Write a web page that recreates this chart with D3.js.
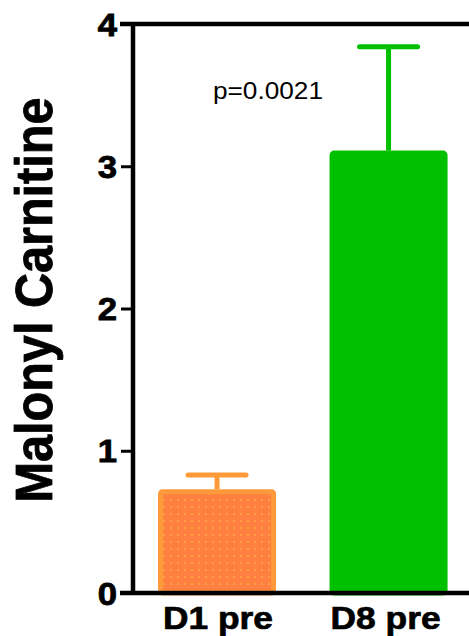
<!DOCTYPE html>
<html>
<head>
<meta charset="utf-8">
<script src="https://cdn.jsdelivr.net/npm/d3@7"></script>
<style>
  html, body { margin: 0; padding: 0; background: #fff; }
  svg { display: block; }
  text { font-family: "Liberation Sans", Arial, sans-serif; }
</style>
</head>
<body>
<div id="chart"></div>
<script>
// data
const groups = ["D1 pre", "D8 pre"];
const means = [0.73, 3.11];
const sems = [0.10, 0.73];
const yTicks = [0, 1, 2, 3, 4];
const yLabel = "Malonyl Carnitine";
const pLabel = "p=0.0021";

const W = 469, H = 636;
const svg = d3.select("#chart").append("svg").attr("width", W).attr("height", H);

const defs = svg.append("defs");
const pat = defs.append("pattern").attr("id", "dots").attr("patternUnits", "userSpaceOnUse")
  .attr("width", 7).attr("height", 7);
pat.append("rect").attr("width", 7).attr("height", 7).attr("fill", "#ff8040");
pat.append("rect").attr("x", 2).attr("y", 2).attr("width", 2).attr("height", 2).attr("fill", "#ffa040");

const x = d3.scaleBand().domain(groups).range([133, 472.6]).paddingInner(0.312).paddingOuter(0.146);
const y = d3.scaleLinear().domain([0, 4]).range([593, 24]);

const fills = ["url(#dots)", "#00c000"];
const strokes = ["#ff9a3a", "#00c000"];

// bars
svg.selectAll("rect.bar").data(groups).enter().append("rect").attr("class", "bar")
  .attr("x", d => x(d) + 2.5).attr("width", x.bandwidth() - 5)
  .attr("y", (d, i) => y(means[i]) + 2.5).attr("height", (d, i) => y(0) - y(means[i]) - 2.5)
  .attr("rx", 2)
  .attr("fill", (d, i) => fills[i]).attr("stroke", (d, i) => strokes[i]).attr("stroke-width", 5);

// error bars (upper only)
const eb = svg.selectAll("g.err").data(groups).enter().append("g").attr("class", "err")
  .attr("stroke", (d, i) => strokes[i]).attr("stroke-width", 5).attr("stroke-linecap", "round");
eb.append("line").attr("x1", d => x(d) + x.bandwidth() / 2).attr("x2", d => x(d) + x.bandwidth() / 2)
  .attr("y1", (d, i) => y(means[i])).attr("y2", (d, i) => y(means[i] + sems[i]))
  .attr("stroke-linecap", "butt");
eb.append("line").attr("x1", d => x(d) + x.bandwidth() / 2 - 29).attr("x2", d => x(d) + x.bandwidth() / 2 + 29)
  .attr("y1", (d, i) => y(means[i] + sems[i])).attr("y2", (d, i) => y(means[i] + sems[i]));

// y axis
const ya = svg.append("g").attr("transform", "translate(133,0)")
  .call(d3.axisLeft(y).tickValues(yTicks).tickSize(12).tickPadding(14).tickFormat(d3.format("d")));
ya.select(".domain").remove();
ya.selectAll(".tick line").attr("stroke", "#000").attr("stroke-width", 3);
ya.selectAll(".tick text").attr("font-size", 31).attr("font-weight", "bold").attr("fill", "#000")
  .attr("stroke", "#000").attr("stroke-width", 0.8)
  .attr("font-family", "Liberation Sans, Arial, sans-serif")
  .attr("x", -16 / 1.12).attr("dy", "0.36em").attr("transform", "scale(1.12,1)");

svg.append("line").attr("x1", 133).attr("x2", 133).attr("y1", y(4) - 2).attr("y2", y(0) + 2)
  .attr("stroke", "#000").attr("stroke-width", 4.5);
// top frame and baseline
svg.append("line").attr("x1", 120).attr("x2", W).attr("y1", y(4)).attr("y2", y(4))
  .attr("stroke", "#000").attr("stroke-width", 4.5);
svg.append("line").attr("x1", 120).attr("x2", W).attr("y1", y(0)).attr("y2", y(0))
  .attr("stroke", "#000").attr("stroke-width", 4.5);

// x labels
svg.selectAll("text.xl").data(groups).enter().append("text").attr("class", "xl")
  .attr("x", (d, i) => x(d) + x.bandwidth() / 2 + (i ? -3 : 1)).attr("y", 629)
  .attr("text-anchor", "middle").attr("font-size", 31).attr("font-weight", "bold")
  .attr("stroke", "#000").attr("stroke-width", 0.7)
  .attr("textLength", 110).attr("lengthAdjust", "spacingAndGlyphs")
  .text(d => d);

// y label
svg.append("text").attr("transform", "translate(52,300) rotate(-90)")
  .attr("text-anchor", "middle").attr("font-size", 51).attr("font-weight", "bold")
  .attr("stroke", "#000").attr("stroke-width", 0.8)
  .attr("textLength", 405).attr("lengthAdjust", "spacingAndGlyphs")
  .text(yLabel);

// p value
svg.append("text").attr("x", 268).attr("y", 99).attr("text-anchor", "middle")
  .attr("font-size", 24).attr("font-family", "Open Sans, sans-serif")
  .attr("textLength", 110).attr("lengthAdjust", "spacingAndGlyphs")
  .text(pLabel);
</script>
</body>
</html>
